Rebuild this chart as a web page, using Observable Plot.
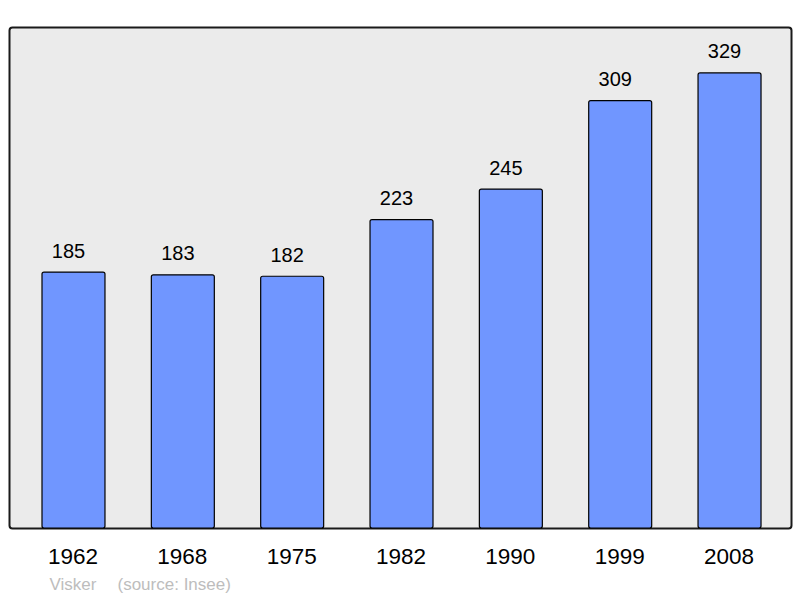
<!DOCTYPE html>
<html>
<head>
<meta charset="utf-8">
<script src="https://cdn.jsdelivr.net/npm/d3@7"></script>
<script src="https://cdn.jsdelivr.net/npm/@observablehq/plot@0.6"></script>
<style>
  html, body { margin: 0; padding: 0; background: #fff; }
  #chart svg { display: block; }
</style>
</head>
<body>
<div id="chart"></div>
<script>
const years = ["1962", "1968", "1975", "1982", "1990", "1999", "2008"];
const population = [185, 183, 182, 223, 245, 309, 329];
const captionAuthor = "Visker";
const captionSource = "(source: Insee)";

const data = years.map((year, i) => ({year, value: population[i]}));

const font = "'Liberation Sans', Arial, sans-serif";

const chart = Plot.plot({
  width: 800,
  height: 598,
  marginLeft: 9,
  marginRight: 9,
  marginTop: 27,
  marginBottom: 70,
  style: {fontFamily: font, background: "#fff", color: "#000"},
  x: {domain: years, paddingInner: 0.424, paddingOuter: 0.288, align: 0.524, round: false, label: null},
  y: {domain: [0, 362.2], axis: null},
  marks: [
    Plot.frame({fill: "#ebebeb", stroke: "#1a1a1a", strokeWidth: 2, rx: 3}),
    Plot.barY(data, {x: "year", y: "value", fill: "#7096ff", stroke: "#000", strokeWidth: 1.2, rx: 2}),
    Plot.text(data, {x: "year", y: "value", text: d => String(d.value), lineAnchor: "bottom", dx: -5.5, dy: -15, fontSize: 20, fill: "#000"}),
    Plot.axisX({tickSize: 0, tickPadding: 20, fontSize: 22.5, fill: "#000", label: null, dx: -1}),
    Plot.text([captionAuthor], {frameAnchor: "bottom-left", dx: 40, dy: 61, lineAnchor: "bottom", textAnchor: "start", fontSize: 17, fill: "#bdbdbd"}),
    Plot.text([captionSource], {frameAnchor: "bottom-left", dx: 108, dy: 61, lineAnchor: "bottom", textAnchor: "start", fontSize: 17, fill: "#bdbdbd"})
  ]
});
document.getElementById("chart").appendChild(chart);
</script>
</body>
</html>
